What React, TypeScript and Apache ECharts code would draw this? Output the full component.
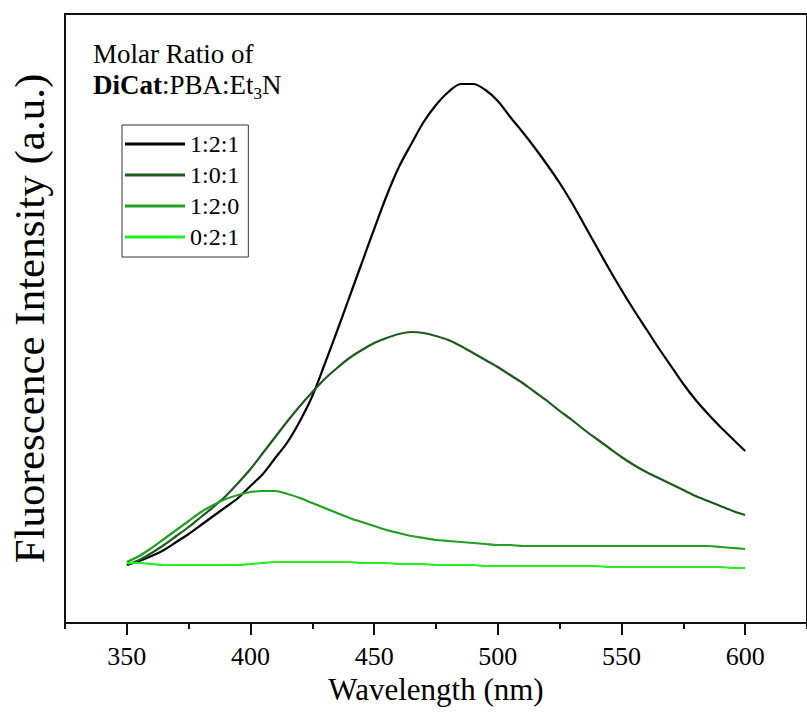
import React, { useEffect, useRef } from "react";
import * as echarts from "echarts";

const wavelengths = [
  350, 355, 360, 365, 370, 375, 380, 385, 390, 395, 400, 405, 410, 415, 420, 425, 430, 435, 440, 445, 450,
  455, 460, 465, 470, 475, 480, 485, 490, 495, 500, 505, 510, 515, 520, 525, 530, 535, 540, 545, 550,
  555, 560, 565, 570, 575, 580, 585, 590, 595, 600,
];
const ratio121 = [
  58, 62, 67, 73, 81, 89, 98, 107, 116, 125, 137, 149, 165, 181, 202, 227, 259, 292, 326, 360, 394,
  427, 456, 479, 501, 518, 531, 539, 539, 533, 522, 506, 491, 475, 458, 440, 420, 398, 376, 354, 333,
  313, 294, 275, 257, 239, 223, 209, 196, 184, 172,
];
const ratio101 = [
  58, 63, 70, 78, 87, 96, 106, 116, 127, 140, 154, 170, 186, 202, 217, 231, 244, 255, 265, 273, 280,
  285, 289, 291, 290, 287, 283, 277, 270, 263, 256, 248, 240, 231, 222, 212, 203, 193, 184, 175, 166,
  158, 151, 145, 139, 133, 127, 122, 117, 112, 108,
];
const ratio120 = [
  61, 67, 75, 84, 93, 102, 111, 118, 124, 128, 131, 132, 132, 129, 125, 120, 115, 110, 105, 101, 97,
  93, 90, 87, 85, 83, 82, 81, 80, 79, 78, 78, 77, 77, 77, 77, 77, 77, 77, 77, 77,
  77, 77, 77, 77, 77, 77, 77, 76, 75, 74,
];
const ratio021 = [
  60, 60, 59, 58, 58, 58, 58, 58, 58, 58, 59, 60, 61, 61, 61, 61, 61, 61, 61, 60, 60,
  60, 59, 59, 59, 58, 58, 58, 58, 57, 57, 57, 57, 57, 57, 57, 57, 57, 57, 56, 56,
  56, 56, 56, 56, 56, 56, 56, 56, 55, 55,
];

const seriesNames = ["1:2:1", "1:0:1", "1:2:0", "0:2:1"];
const seriesColors = ["#000000", "#1e5a1e", "#22a022", "#22ee22"];
const majorTicks = [350, 400, 450, 500, 550, 600];
const minorTicks = [325, 375, 425, 475, 525, 575, 625];

const FONT = "Liberation Serif";

export default function App() {
  const ref = useRef<HTMLDivElement>(null);
  useEffect(() => {
    if (!ref.current) return;
    const chart = echarts.init(ref.current, undefined, { renderer: "svg" });
    const allData = [ratio121, ratio101, ratio120, ratio021];
    chart.setOption({
      animation: false,
      backgroundColor: "#ffffff",
      textStyle: { fontFamily: FONT },
      grid: {
        left: 62,
        top: 14,
        right: -10,
        bottom: 99,
        show: true,
        borderColor: "#111",
        borderWidth: 2,
        backgroundColor: "transparent",
      },
      legend: {
        orient: "vertical",
        left: 122,
        top: 125,
        padding: [7, 9, 8, 3],
        itemGap: 7,
        itemWidth: 60,
        itemHeight: 3,
        icon: "rect",
        borderColor: "#333",
        borderWidth: 1,
        data: seriesNames,
        textStyle: { fontFamily: FONT, fontSize: 24, color: "#000" },
      },
      xAxis: [
        {
          type: "value",
          min: 325,
          max: 625,
          position: "bottom",
          name: "Wavelength (nm)",
          nameLocation: "middle",
          nameGap: 42,
          nameTextStyle: { fontFamily: FONT, fontSize: 31, color: "#000" },
          axisLine: { show: true, lineStyle: { color: "#111", width: 2 } },
          axisTick: { show: true, customValues: majorTicks, length: 12, inside: false, lineStyle: { color: "#111", width: 2 } },
          axisLabel: { show: true, customValues: majorTicks, margin: 20, fontFamily: FONT, fontSize: 26, color: "#000" },
          splitLine: { show: false },
        },
        {
          type: "value",
          min: 325,
          max: 625,
          position: "bottom",
          axisLine: { show: false },
          axisTick: { show: true, customValues: minorTicks, length: 6, inside: false, lineStyle: { color: "#111", width: 2 } },
          axisLabel: { show: false },
          splitLine: { show: false },
        },
      ],
      yAxis: {
        type: "value",
        min: 0,
        max: 609,
        name: "Fluorescence Intensity (a.u.)",
        nameLocation: "middle",
        nameGap: 14,
        nameTextStyle: { fontFamily: FONT, fontSize: 43, color: "#000" },
        axisLine: { show: true, lineStyle: { color: "#111", width: 2 } },
        axisTick: { show: false },
        axisLabel: { show: false },
        splitLine: { show: false },
      },
      graphic: [
        {
          type: "text",
          left: 93,
          top: 40,
          style: { text: "Molar Ratio of", fontFamily: FONT, fontSize: 27, fill: "#000" },
        },
        {
          type: "text",
          left: 93,
          top: 71,
          style: {
            text: "{b|DiCat}{n|:PBA:Et}{s|3}{n|N}",
            fontFamily: FONT,
            fontSize: 27,
            fill: "#000",
            rich: {
              b: { fontFamily: FONT, fontSize: 27, fontWeight: "bold", lineHeight: 34, fill: "#000" },
              n: { fontFamily: FONT, fontSize: 27, lineHeight: 34, fill: "#000" },
              s: { fontFamily: FONT, fontSize: 17, lineHeight: 34, verticalAlign: "bottom", fill: "#000" },
            },
          },
        },
      ],
      series: seriesNames.map((name, i) => ({
        name,
        type: "line",
        xAxisIndex: 0,
        smooth: 0.3,
        symbol: "none",
        lineStyle: { color: seriesColors[i], width: 2.2 },
        itemStyle: { color: seriesColors[i] },
        data: wavelengths.map((w, j) => [w, allData[i][j]]),
      })),
    });
    return () => chart.dispose();
  }, []);
  return (
    <>
      <style>{`#fluor-chart text, #fluor-chart tspan { font-family: "Liberation Serif", "Times New Roman", serif !important; }`}</style>
      <div id="fluor-chart" ref={ref} style={{ position: "fixed", left: 0, top: 0, width: 807, height: 722 }} />
    </>
  );
}
